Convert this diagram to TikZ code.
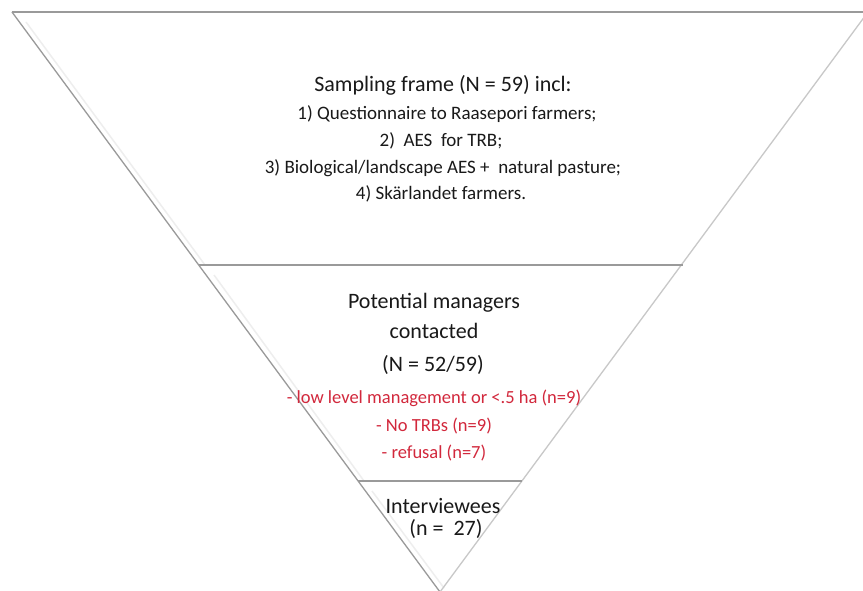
\documentclass[tikz,border=0pt]{standalone}
\usepackage{fontspec}
\setmainfont{Carlito}
\definecolor{edgegray}{HTML}{9A9A9A}
\definecolor{edgelight}{HTML}{C8C8C8}
\definecolor{shade}{HTML}{EEEEEE}
\definecolor{redtxt}{HTML}{D2283C}
\begin{document}
\begin{tikzpicture}[x=1pt,y=-1pt,
  edge/.style={draw=edgegray,line width=1.3pt},
  edgeR/.style={draw=edgelight,line width=1.3pt},
  shadowline/.style={draw=shade,line width=1.5pt},
  title/.style={font=\fontsize{22}{26}\selectfont,text=black!90,inner sep=0pt,anchor=base},
  item/.style={font=\fontsize{19}{22}\selectfont,text=black!90,inner sep=0pt,anchor=base},
  reditem/.style={font=\fontsize{18.5}{22}\selectfont,text=redtxt,inner sep=0pt,anchor=base}]
\useasboundingbox (0,0) rectangle (863,591);
\fill[white] (0,0) rectangle (863,591);
% corners
\coordinate (TL) at (12,12);
\coordinate (TR) at (868,12);
\coordinate (AP) at (440,592);
\coordinate (L1) at (199,265);
\coordinate (R1) at (683,265);
\coordinate (L2) at (358,481);
\coordinate (R2) at (522,481);
% faint shadows
\draw[shadowline] (26,22) -- (205,265);
\draw[shadowline] (214,275) -- (364,481);
\draw[shadowline] (372,491) -- (444,588);
% outline
\draw[edge] (TL) -- (TR);
\draw[edge] (TL) -- (AP);
\draw[edgeR] (TR) -- (AP);
\draw[edge] (L1) -- (R1);
\draw[edge] (L2) -- (R2);
% texts
\node[title] (t0) at (443,92) {Sampling frame (N = 59) incl:};
\node[item] (t1) at (447,120) {1) Questionnaire to Raasepori farmers;};
\node[item] (t2) at (441,147) {2)\ \ AES\ \ for TRB;};
\node[item] (t3) at (443,174) {3) Biological/landscape AES +\ \ natural pasture;};
\node[item] (t4) at (441,200) {4) Skärlandet farmers.};
\node[title] (m0) at (434,308) {Potential managers};
\node[title] (m1) at (434,338) {contacted};
\node[title] (m2) at (433,371) {(N = 52/59)};
\node[reditem] (r1) at (434,403) {- low level management or <.5 ha (n=9)};
\node[reditem] (r2) at (434,431) {- No TRBs (n=9)};
\node[reditem] (r3) at (434,458) {- refusal (n=7)};
\node[title] (b0) at (443,513) {Interviewees};
\node[title] (b1) at (446,535) {(n =\ \ 27)};
\end{tikzpicture}
\end{document}
